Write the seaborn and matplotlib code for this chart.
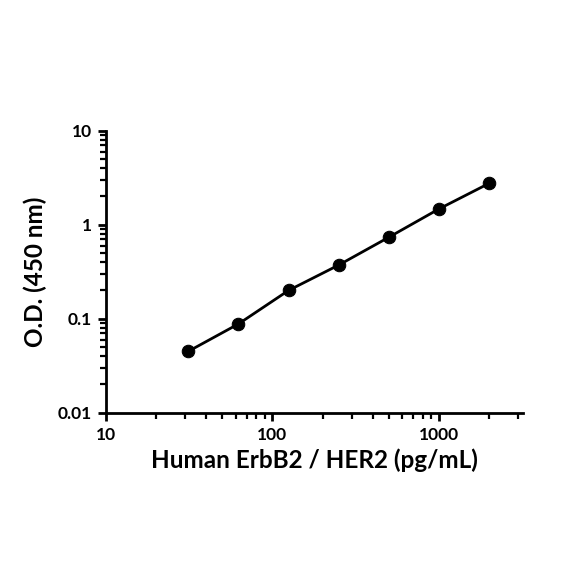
import pandas as pd
import matplotlib.pyplot as plt
import matplotlib.ticker as mticker
import seaborn as sns

# standard curve values
conc = [31.25, 62.5, 125, 250, 500, 1000, 2000]
od = [0.045, 0.088, 0.20, 0.372, 0.735, 1.47, 2.75]

df = pd.DataFrame({"conc": conc, "od": od})

sns.set_style("ticks")
plt.rcParams["font.family"] = ["Lato", "DejaVu Sans"]
plt.rcParams["font.weight"] = "bold"
plt.rcParams["text.color"] = "black"
plt.rcParams["axes.labelcolor"] = "black"
plt.rcParams["xtick.color"] = "black"
plt.rcParams["ytick.color"] = "black"
plt.rcParams["axes.edgecolor"] = "black"

fig = plt.figure(figsize=(5.84, 5.84), dpi=100)
ax = fig.add_axes([0.1815, 0.2933, 0.714, 0.4829])

sns.lineplot(data=df, x="conc", y="od", ax=ax, color="black", linewidth=2,
             marker="o", markersize=9, markeredgecolor="black")

ax.set_xscale("log")
ax.set_yscale("log")
ax.set_xlim(10, 3200)
ax.set_ylim(0.01, 10)

ax.xaxis.set_major_locator(mticker.FixedLocator([10, 100, 1000]))
ax.xaxis.set_major_formatter(mticker.FixedFormatter(["10", "100", "1000"]))
ax.xaxis.set_minor_locator(mticker.LogLocator(base=10, subs=range(2, 10), numticks=20))
ax.xaxis.set_minor_formatter(mticker.NullFormatter())
ax.yaxis.set_major_locator(mticker.FixedLocator([0.01, 0.1, 1, 10]))
ax.yaxis.set_major_formatter(mticker.FixedFormatter(["0.01", "0.1", "1", "10"]))
ax.yaxis.set_minor_locator(mticker.LogLocator(base=10, subs=range(2, 10), numticks=20))
ax.yaxis.set_minor_formatter(mticker.NullFormatter())

ax.tick_params(which="major", length=6, width=2, labelsize=12.5, pad=4, colors="black")
ax.tick_params(which="minor", length=4, width=1.6, colors="black")
for lab in ax.get_xticklabels() + ax.get_yticklabels():
    lab.set_fontweight("bold")

for s in ["left", "bottom"]:
    ax.spines[s].set_linewidth(2)
    ax.spines[s].set_color("black")
sns.despine(ax=ax)

ax.set_xlabel("Human ErbB2 / HER2 (pg/mL)", fontsize=17.5, fontweight="bold", labelpad=4)
ax.set_ylabel("O.D. (450 nm)", fontsize=17.5, fontweight="bold", labelpad=8)

fig.savefig("out.png", dpi=100)
